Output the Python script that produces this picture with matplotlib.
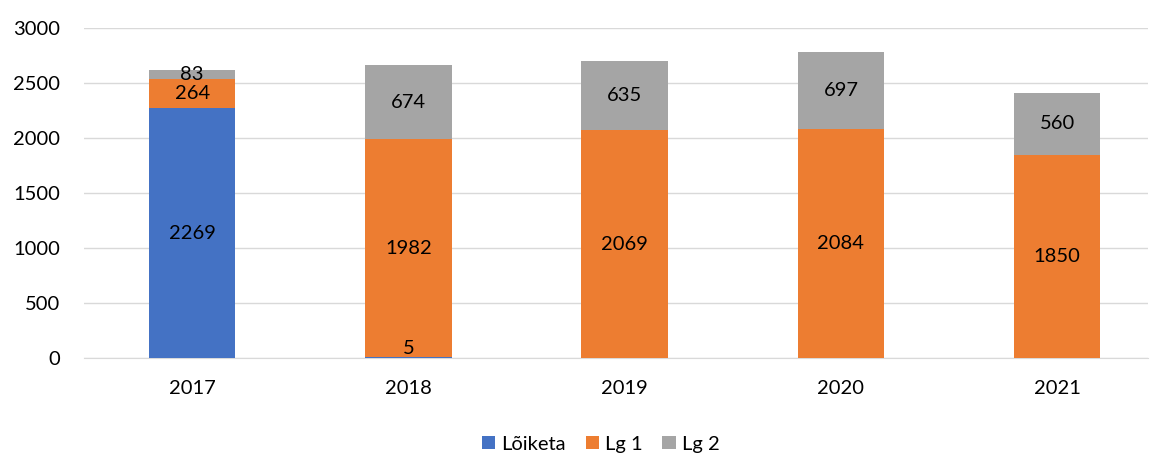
import numpy as np
import matplotlib.pyplot as plt

# andmed
years = ["2017", "2018", "2019", "2020", "2021"]
loiketa = [2269, 5, 0, 0, 0]
lg1 = [264, 1982, 2069, 2084, 1850]
lg2 = [83, 674, 635, 697, 560]

plt.rcParams['font.family'] = ['Lato', 'DejaVu Sans']
FS = 14.5

fig = plt.figure(figsize=(11.55, 4.55), dpi=100)
ax = fig.add_axes([84 / 1155, 1 - 358 / 455, (1148 - 84) / 1155, 330 / 455])

x = np.arange(len(years))
w = 0.40
series = [("Lõiketa", loiketa, "#4472C4"), ("Lg 1", lg1, "#ED7D31"), ("Lg 2", lg2, "#A5A5A5")]
bottom = np.zeros(len(years))
for name, vals, col in series:
    vals = np.array(vals)
    ax.bar(x, vals, w, bottom=bottom, color=col, label=name, zorder=3)
    for i, v in enumerate(vals):
        if v <= 0:
            continue
        if v < 50:
            # väike väärtus: silt telje kohal
            ax.text(x[i], bottom[i] + 12, str(v), ha="center", va="bottom", fontsize=FS, zorder=4)
        else:
            ax.text(x[i], bottom[i] + v / 2, str(v), ha="center", va="center", fontsize=FS, zorder=4)
    bottom += vals

ax.set_xlim(-0.5, 4.42)
ax.set_ylim(0, 3000)
ax.set_yticks(range(0, 3001, 500))
ax.set_xticks(x)
ax.set_xticklabels(years)
ax.grid(axis="y", color="#D9D9D9", linewidth=1, zorder=0)
for s in ["top", "right", "left"]:
    ax.spines[s].set_visible(False)
ax.spines["bottom"].set_color("#D9D9D9")
ax.tick_params(length=0, labelsize=FS)
ax.tick_params(axis="x", pad=16)
ax.tick_params(axis="y", pad=17)

fig.legend(loc="lower center", bbox_to_anchor=(0.52, -0.035), ncol=3, frameon=False,
           fontsize=FS, handlelength=0.65, handleheight=0.65, handletextpad=0.3, columnspacing=1.0)

fig.savefig("out.png", dpi=100)
